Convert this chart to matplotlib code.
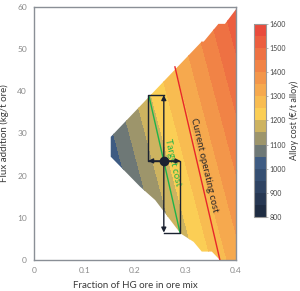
import numpy as np
import matplotlib
matplotlib.use("Agg")
import matplotlib.pyplot as plt
from matplotlib.colors import LinearSegmentedColormap
from matplotlib.patches import Polygon

plt.rcParams["font.family"] = ["Lato", "DejaVu Sans"]

# feasible operating region (fraction HG ore, flux kg/t ore)
region_x = [0.4, 0.4, 0.368, 0.352, 0.332, 0.316, 0.29, 0.24, 0.21, 0.152, 0.152,
            0.332, 0.336, 0.365, 0.378, 0.4]
region_y = [59.5, 0.0, 0.0, 2.0, 2.0, 4.3, 6.3, 14.2, 17.4, 24.5, 29.2,
            51.8, 51.8, 56.0, 56.0, 59.5]

# cost model
cost_ref = 1050.0
x_ref = 0.166
y_ref = 26.1
cost_per_x = 1580.0
cost_per_y = 3.5
cost_levels = list(range(800, 1650, 50))
cbar_ticks = list(range(800, 1700, 100))

# iso-cost lines
current_x = [0.279, 0.368]
current_y = [45.8, 0.0]
target_x = [0.228, 0.289]
target_y = [38.7, 6.5]

# operating point and sensitivity boxes
point_x, point_y = 0.257, 23.5
box_left, box_right = 0.226, 0.290
box_top, box_bottom = 39.1, 6.5

xticks = [0, 0.1, 0.2, 0.3, 0.4]
xtick_labels = ["0", "0.1", "0.2", "0.3", "0.4"]
yticks = [0, 10, 20, 30, 40, 50, 60]

cmap = LinearSegmentedColormap.from_list(
    "alloy",
    [(0.0, "#1a263a"), (0.281, "#3d5a82"), (0.531, "#fbcf55"), (1.0, "#e8433a")],
)

fig = plt.figure(figsize=(3.0, 2.91), dpi=100)
ax = fig.add_axes([0.113, 0.1065, 0.674, 0.8695])

gx = np.linspace(0, 0.4, 300)
gy = np.linspace(0, 60, 300)
X, Y = np.meshgrid(gx, gy)
Z = cost_ref + cost_per_x * (X - x_ref) + cost_per_y * (Y - y_ref)

cs = ax.contourf(X, Y, Z, levels=cost_levels, cmap=cmap, vmin=800, vmax=1600)
clip = Polygon(np.column_stack([region_x, region_y]), closed=True,
               facecolor="none", edgecolor="none", transform=ax.transData)
ax.add_patch(clip)
cs.set_clip_path(clip)

ax.plot(current_x, current_y, color="#e8262a", lw=1.0, zorder=3)
ax.plot(target_x, target_y, color="#1fb34a", lw=1.0, zorder=3)

dark = "#1b2231"
ax.plot([point_x, box_left, box_left, point_x],
        [box_top, box_top, point_y, point_y], color=dark, lw=1.0, zorder=4)
ax.plot([point_x, box_right, box_right, point_x],
        [box_bottom, box_bottom, point_y, point_y], color=dark, lw=1.0, zorder=4)
arrow = dict(arrowstyle="-|>", color=dark, lw=1.0, mutation_scale=7,
             shrinkA=0, shrinkB=0)
for tx, ty in [(point_x, box_top), (point_x, box_bottom),
               (box_left, point_y), (box_right, point_y)]:
    ax.annotate("", xy=(tx, ty), xytext=(point_x, point_y),
                arrowprops=arrow, zorder=5)
ax.plot([point_x], [point_y], "o", color=dark, ms=6, zorder=6)

ax.text(0.336, 22.5, "Current operating cost", rotation=-77, color="#2a2a2a",
        fontsize=7, ha="center", va="center", rotation_mode="anchor")
ax.text(0.274, 23.2, "Target cost", rotation=-77, color="#1fb34a",
        fontsize=7, ha="center", va="center", rotation_mode="anchor")

ax.set_xlim(0, 0.4)
ax.set_ylim(0, 60)
ax.set_xticks(xticks)
ax.set_xticklabels(xtick_labels)
ax.set_yticks(yticks)
ax.tick_params(length=0, pad=5, labelsize=6, labelcolor="#8a8a8a")
for s in ax.spines.values():
    s.set_color("#8a8f96")
    s.set_linewidth(1.0)
ax.set_xlabel("Fraction of HG ore in ore mix", fontsize=7, color="#3a3a3a", labelpad=5)
ax.set_ylabel("Flux addition (kg/t ore)", fontsize=7, color="#3a3a3a", labelpad=6)

cax = fig.add_axes([0.848, 0.254, 0.038, 0.665])
cb = fig.colorbar(cs, cax=cax, ticks=cbar_ticks)
cb.outline.set_edgecolor("#999999")
cb.outline.set_linewidth(0.8)
cax.tick_params(length=1.5, width=0.5, pad=1, labelsize=5, labelcolor="#444444",
                color="#999999")
cb.set_label("Alloy cost (€/t alloy)", fontsize=6.5, color="#3a3a3a", labelpad=3)

fig.savefig("out.png", dpi=100)
